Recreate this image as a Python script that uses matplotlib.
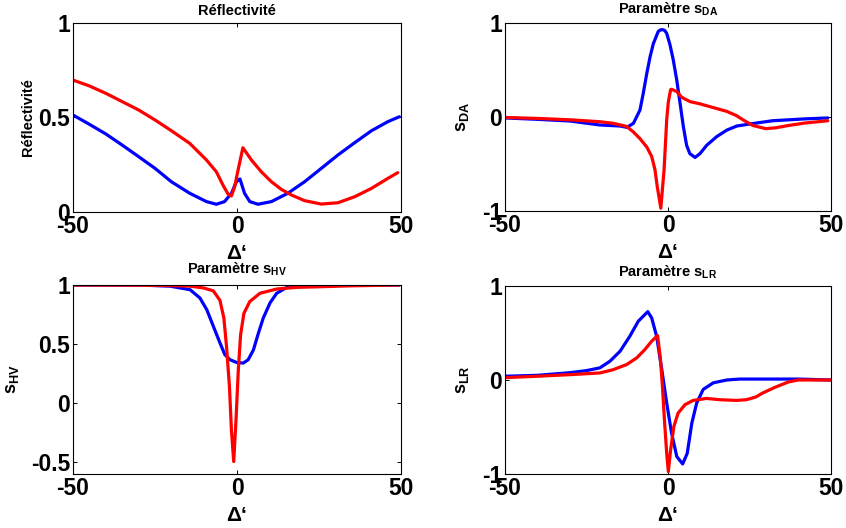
import matplotlib
matplotlib.use('Agg')
import matplotlib.pyplot as plt

plt.rcParams['font.family'] = ['Liberation Sans', 'DejaVu Sans']
plt.rcParams['font.weight'] = 'bold'
plt.rcParams['mathtext.fontset'] = 'custom'
plt.rcParams['mathtext.rm'] = 'Liberation Sans:bold'
plt.rcParams['mathtext.it'] = 'Liberation Sans:bold'
plt.rcParams['mathtext.bf'] = 'Liberation Sans:bold'
plt.rcParams['mathtext.default'] = 'bf'

# ---------------- data ----------------
# Reflectivite
refl_red_x = [-50, -45, -40, -35, -30, -25, -20, -14.4, -9.3, -6.3, -4.3, -2.7, -1.7, -0.7, 0.3,
              1.8, 4.4, 7.4, 10.5, 13.5, 16.6, 20.6, 25.7, 30.8, 35.9, 41, 46, 49]
refl_red_y = [0.698, 0.667, 0.628, 0.584, 0.54, 0.487, 0.43, 0.363, 0.275, 0.213, 0.143, 0.094, 0.085,
              0.134, 0.22, 0.34, 0.275, 0.213, 0.16, 0.12, 0.09, 0.06, 0.042, 0.049, 0.081, 0.125,
              0.178, 0.208]
refl_blue_x = [-50, -45, -40, -35, -30, -25, -20, -14.4, -9.3, -6.3, -3.8, -1.7, -0.2, 0.9, 2.3,
               3.9, 6.4, 10.5, 15.5, 20.6, 25.7, 30.8, 35.9, 41, 46, 49.5]
refl_blue_y = [0.513, 0.464, 0.413, 0.354, 0.293, 0.231, 0.16, 0.099, 0.055, 0.041, 0.055, 0.099,
               0.16, 0.175, 0.099, 0.055, 0.041, 0.055, 0.099, 0.16, 0.231, 0.302, 0.367, 0.43,
               0.478, 0.504]

# s_DA
sda_blue_x = [-50, -40, -30, -20.9, -14.7, -12.6, -10.6, -8.6, -7.6, -6.5, -5.5, -4.5, -3.0, -2.4,
              -1.7, -1.0, -0.4, 0.6, 1.6, 2.7, 3.7, 4.7, 5.7, 6.7, 8.3, 9.8, 11.9, 14.9, 18, 21.1,
              25, 32, 37, 42, 49]
sda_blue_y = [-0.01, -0.025, -0.043, -0.085, -0.096, -0.11, -0.067, 0.074, 0.25, 0.465, 0.64, 0.78,
              0.91, 0.925, 0.93, 0.92, 0.89, 0.77, 0.61, 0.39, 0.146, -0.10, -0.30, -0.39, -0.43,
              -0.39, -0.30, -0.21, -0.14, -0.096, -0.075, -0.04, -0.03, -0.02, -0.01]
sda_red_x = [-50, -40, -30, -20.9, -16.8, -12.7, -10.6, -8.6, -6.5, -5.0, -4.0, -3.3, -2.2, -1.2,
             -0.4, 0.1, 0.8, 1.1, 2.7, 4.2, 6.8, 9.8, 13.9, 18, 21, 23, 26, 30, 33, 37, 42, 49]
sda_red_y = [-0.005, -0.015, -0.03, -0.05, -0.067, -0.10, -0.16, -0.23, -0.32, -0.42, -0.56, -0.74,
             -0.97, -0.56, -0.03, 0.16, 0.29, 0.295, 0.27, 0.21, 0.163, 0.14, 0.10, 0.06, 0.015,
             -0.03, -0.09, -0.124, -0.115, -0.09, -0.064, -0.04]

# s_HV
shv_blue_x = [-50, -30, -20.4, -14.3, -11.3, -9.2, -7.2, -5.2, -3.7, -2.1, -0.1, 1.9, 3.4, 5.0,
              6.5, 8.0, 10.1, 12.1, 15.2, 20.2, 30, 49.5]
shv_blue_y = [1.0, 1.0, 0.99, 0.96, 0.89, 0.79, 0.65, 0.51, 0.41, 0.367, 0.344, 0.339, 0.367, 0.45,
              0.59, 0.72, 0.85, 0.93, 0.98, 0.995, 1.0, 1.0]
shv_red_x = [-50, -30, -20, -14.3, -10.2, -7.2, -5.2, -4.0, -3.2, -2.3, -1.7, -1.0, -0.3, 0.4, 1.1,
             2.1, 3.9, 7.0, 12.1, 18.2, 25, 35, 49.5]
shv_red_y = [1.0, 0.998, 0.995, 0.99, 0.975, 0.95, 0.87, 0.72, 0.48, 0.14, -0.23, -0.495, -0.14,
             0.28, 0.58, 0.76, 0.86, 0.93, 0.966, 0.98, 0.985, 0.993, 1.0]

# s_LR
slr_blue_x = [-50, -40, -30, -25, -20.9, -17.8, -14.7, -11.7, -9.1, -6.2, -5.0, -3.5, -1.9, -0.4,
              1.1, 2.7, 4.5, 5.9, 7.3, 8.8, 10.8, 13.9, 18, 22, 30, 40, 50]
slr_blue_y = [0.04, 0.05, 0.078, 0.10, 0.129, 0.20, 0.306, 0.466, 0.626, 0.727, 0.66, 0.466, 0.11,
              -0.245, -0.565, -0.815, -0.893, -0.78, -0.46, -0.245, -0.10, -0.03, 0.0, 0.01,
              0.01, 0.01, 0.0]
slr_red_x = [-50, -40, -30, -20.9, -16.8, -12.7, -9.6, -7.1, -5.0, -3.2, -2.4, -1.7, -1.1, -0.4,
             0.1, 0.8, 1.8, 3.1, 5.2, 7.7, 11.8, 16, 21, 24, 27, 29, 33, 37, 40, 45, 50]
slr_red_y = [0.025, 0.04, 0.057, 0.075, 0.11, 0.164, 0.235, 0.324, 0.413, 0.473, 0.252, -0.068,
             -0.423, -0.78, -0.975, -0.744, -0.495, -0.352, -0.263, -0.217, -0.196, -0.21, -0.217,
             -0.21, -0.18, -0.139, -0.075, -0.02, 0.0, 0.0, 0.0]

x_ticks = [-50, 0, 50]
x_ticklabels = ['-50', '0', '50']
xlabel_text = 'Δ‘'

panels = [
    dict(title='Réflectivité', ylabel='Réflectivité', ylab_size=10.5,
         red=(refl_red_x, refl_red_y), blue=(refl_blue_x, refl_blue_y),
         ylim=(0, 1), yticks=[0, 0.5, 1], yticklabels=['0', '0.5', '1'],
         pos=[73, 23, 401, 212], ylab_x=-0.116, title_pad=5.8),
    dict(title='Paramètre s$_{DA}$', ylabel='s$_{DA}$', ylab_size=13,
         red=(sda_red_x, sda_red_y), blue=(sda_blue_x, sda_blue_y),
         ylim=(-1, 1), yticks=[-1, 0, 1], yticklabels=['-1', '0', '1'],
         pos=[505, 23, 831, 211], ylab_x=-0.105, title_pad=7.0),
    dict(title='Paramètre s$_{HV}$', ylabel='s$_{HV}$', ylab_size=13,
         red=(shv_red_x, shv_red_y), blue=(shv_blue_x, shv_blue_y),
         ylim=(-0.6, 1), yticks=[-0.5, 0, 0.5, 1], yticklabels=['-0.5', '0', '0.5', '1'],
         pos=[73, 285, 401, 474], ylab_x=-0.160, title_pad=8.0),
    dict(title='Paramètre s$_{LR}$', ylabel='s$_{LR}$', ylab_size=13,
         red=(slr_red_x, slr_red_y), blue=(slr_blue_x, slr_blue_y),
         ylim=(-1, 1), yticks=[-1, 0, 1], yticklabels=['-1', '0', '1'],
         pos=[505, 286, 831, 474], ylab_x=-0.105, title_pad=7.0),
]

W, H = 846, 528
fig = plt.figure(figsize=(W / 100, H / 100), dpi=100)

for p in panels:
    l, t, r, b = p['pos']
    ax = fig.add_axes([l / W, (H - b) / H, (r - l) / W, (b - t) / H])
    ax.plot(*p['blue'], color='#0000ff', lw=2.3, solid_joinstyle='round', solid_capstyle='round')
    ax.plot(*p['red'], color='#ff0000', lw=2.3, solid_joinstyle='round', solid_capstyle='round')
    ax.set_xlim(-50, 50)
    ax.set_ylim(*p['ylim'])
    ax.set_xticks(x_ticks)
    ax.set_xticklabels(x_ticklabels)
    ax.set_yticks(p['yticks'])
    ax.set_yticklabels(p['yticklabels'])
    ax.tick_params(direction='in', length=3, width=0.7, top=True, right=True,
                   labelsize=16.5)
    ax.tick_params(axis='y', pad=2)
    ax.tick_params(axis='x', pad=2.5)
    for lab in ax.get_xticklabels() + ax.get_yticklabels():
        lab.set_fontweight('bold')
    for s in ax.spines.values():
        s.set_linewidth(0.8)
    ax.set_title(p['title'], fontsize=10.5, fontweight='bold', pad=p['title_pad'])
    ax.set_ylabel(p['ylabel'], fontsize=p['ylab_size'], fontweight='bold')
    ax.yaxis.set_label_coords(p['ylab_x'], 0.5)
    ax.set_xlabel(xlabel_text, fontsize=15, fontweight='bold', va='top')
    ax.xaxis.set_label_coords(0.5, -0.17)

fig.savefig('out.png', dpi=100)
